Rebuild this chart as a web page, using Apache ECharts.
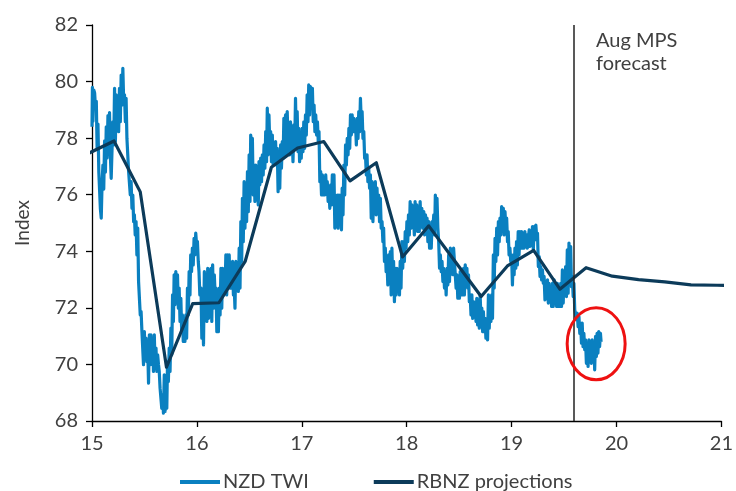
<!DOCTYPE html>
<html><head><meta charset="utf-8">
<script src="https://cdn.jsdelivr.net/npm/echarts@6/dist/echarts.min.js"></script>
<style>html,body{margin:0;padding:0;background:#fff}#c{width:736px;height:491px}</style>
</head><body><div id="c"></div>
<script>
const xTicks = [15, 16, 17, 18, 19, 20, 21];
const yTicks = [68, 70, 72, 74, 76, 78, 80, 82];
const seriesNames = ['NZD TWI', 'RBNZ projections'];
const axisName = 'Index';
const forecastStart = 19.585;
const forecastLabel = 'Aug MPS\nforecast';
const highlightCenter = [19.806, 70.73];

const rbnzDates = [14.96, 15.21, 15.46, 15.71, 15.96, 16.21, 16.46, 16.71, 16.96, 17.21, 17.46, 17.71, 17.96, 18.21, 18.46, 18.71, 18.96, 19.21, 19.46, 19.71, 19.96, 20.21, 20.46, 20.71, 20.96, 21.21];
const rbnzValues = [77.45, 77.9, 76.1, 69.9, 72.15, 72.18, 73.64, 76.97, 77.65, 77.88, 76.49, 77.13, 73.8, 74.9, 73.65, 72.4, 73.48, 74.03, 72.66, 73.42, 73.12, 73.0, 72.92, 72.81, 72.8, 72.78];

const nzdTwi = [
[15.000,78.4],[15.004,79.8],[15.009,78.6],[15.017,79.7],[15.025,79.6],[15.033,79.1],[15.041,79.3],[15.049,77.6],
[15.057,78.5],[15.065,76.8],[15.073,76.8],[15.080,75.5],[15.088,75.17],[15.096,76.4],[15.104,77.05],[15.112,76.2],
[15.120,77.9],[15.128,76.8],[15.136,78.4],[15.144,77.3],[15.152,78.8],[15.160,77.6],[15.167,78.9],[15.175,77.4],
[15.183,76.58],[15.191,77.6],[15.199,78.58],[15.207,77.76],[15.215,79.76],[15.223,77.88],[15.231,79.53],[15.239,78.58],
[15.246,79.17],[15.254,78.23],[15.262,79.76],[15.270,78.58],[15.278,80.23],[15.286,79.17],[15.294,80.47],[15.302,79.3],
[15.310,79.53],[15.318,78.58],[15.325,79.41],[15.333,77.99],[15.341,77.99],[15.349,76.82],[15.357,76.82],[15.365,75.99],
[15.373,76.46],[15.381,75.52],[15.389,75.99],[15.397,75.05],[15.404,75.29],[15.412,74.58],[15.420,75.05],[15.428,73.87],
[15.436,74.82],[15.444,72.93],[15.452,72.93],[15.460,71.75],[15.468,71.87],[15.476,71.16],[15.483,71.16],[15.491,69.99],
[15.499,71.16],[15.507,70.34],[15.515,70.93],[15.523,70.10],[15.531,70.58],[15.539,69.34],[15.547,71.05],[15.555,69.99],
[15.562,71.05],[15.570,70.34],[15.578,70.93],[15.586,69.75],[15.594,71.05],[15.602,69.87],[15.610,70.58],[15.618,69.75],
[15.626,70.34],[15.634,69.99],[15.641,69.75],[15.649,69.16],[15.657,69.16],[15.665,68.45],[15.673,68.93],[15.681,68.28],
[15.689,69.63],[15.697,68.34],[15.705,69.40],[15.713,68.45],[15.720,70.10],[15.728,69.40],[15.736,70.58],[15.744,69.75],
[15.752,71.28],[15.760,70.34],[15.768,72.46],[15.776,71.52],[15.783,73.17],[15.791,72.11],[15.799,73.28],[15.807,72.46],
[15.815,73.17],[15.823,71.99],[15.831,72.70],[15.839,71.52],[15.847,72.34],[15.855,71.16],[15.862,71.75],[15.870,70.81],
[15.878,71.52],[15.886,70.81],[15.894,71.75],[15.902,70.93],[15.910,72.70],[15.918,71.75],[15.926,73.28],[15.934,72.46],
[15.941,73.87],[15.949,73.28],[15.957,74.11],[15.965,73.52],[15.973,74.46],[15.981,73.87],[15.989,74.64],[15.997,74.23],
[16.005,74.34],[16.013,73.64],[16.020,73.28],[16.028,72.46],
[16.039,72.70],[16.047,70.93],[16.055,71.87],[16.063,70.69],[16.071,73.28],[16.079,71.75],[16.087,73.05],[16.095,71.52],
[16.103,73.40],[16.111,71.63],[16.118,72.46],[16.126,71.75],[16.134,73.40],[16.142,71.52],[16.150,73.52],[16.158,71.99],
[16.166,73.17],[16.174,72.46],[16.182,72.70],[16.190,71.16],[16.197,71.99],[16.205,71.16],[16.213,72.70],[16.221,71.75],
[16.229,73.40],[16.237,71.99],[16.245,73.40],[16.253,72.46],[16.261,73.28],[16.269,72.70],[16.276,73.87],[16.284,72.46],
[16.292,73.87],[16.300,72.70],[16.308,73.87],[16.316,72.70],[16.324,73.28],[16.332,72.70],[16.340,73.64],[16.348,72.46],
[16.355,72.81],[16.363,71.99],[16.371,73.64],[16.379,72.70],[16.387,73.17],[16.395,72.58],[16.403,74.11],[16.411,72.70],
[16.419,75.05],[16.427,73.64],[16.434,75.87],[16.442,74.34],[16.450,76.46],[16.458,74.82],[16.466,76.23],[16.474,75.05],
[16.482,76.82],[16.490,75.40],[16.498,77.41],[16.506,75.76],[16.513,78.11],[16.521,76.46],[16.529,77.99],[16.537,75.99],
[16.545,77.05],[16.553,75.76],[16.561,77.05],[16.569,76.23],[16.577,76.82],[16.585,75.64],[16.592,77.17],[16.600,76.35],
[16.608,77.29],[16.616,76.46],[16.624,77.41],[16.632,76.70],[16.640,77.76],[16.648,76.94],[16.656,78.23],[16.664,77.17],
[16.671,79.06],[16.679,77.41],[16.687,78.82],[16.695,77.76],[16.703,78.23],[16.711,77.17],[16.719,78.11],[16.727,77.05],
[16.735,77.76],[16.743,77.17],[16.750,77.88],[16.758,77.05],[16.766,77.64],[16.774,76.11],[16.782,77.41],[16.790,76.23],
[16.798,77.76],[16.806,76.94],[16.814,77.88],[16.822,77.29],[16.829,78.70],[16.837,77.41],[16.845,78.82],[16.853,77.41],
[16.861,78.94],[16.869,77.88],[16.877,78.35],[16.885,77.41],[16.892,78.58],[16.900,77.76],[16.908,78.23],[16.916,77.17],
[16.924,78.47],[16.932,77.64],[16.940,79.41],[16.948,77.88],[16.956,78.94],[16.964,77.52],[16.971,78.35],[16.979,77.17],
[16.987,77.99],[16.995,77.29],[17.003,78.35],[17.011,77.52],[17.019,78.58],[17.027,77.64],[17.035,78.82],[17.043,78.11],
[17.051,79.53],[17.059,78.58],[17.066,79.88],[17.074,78.82],[17.082,79.82],[17.090,79.06],
[17.101,79.76],[17.109,78.58],[17.117,79.17],[17.125,78.23],[17.133,78.82],[17.141,78.11],[17.149,78.58],[17.157,77.88],
[17.164,78.23],[17.172,76.46],[17.180,76.82],[17.188,75.99],[17.196,76.70],[17.204,75.99],[17.212,76.46],[17.220,75.99],
[17.228,76.70],[17.236,76.11],[17.243,76.46],[17.251,75.76],[17.259,76.23],[17.267,75.52],[17.275,76.35],[17.283,75.64],
[17.291,76.70],[17.299,75.76],[17.307,76.70],[17.315,74.82],[17.322,75.76],[17.330,74.93],[17.338,75.99],[17.346,74.82],
[17.354,75.99],[17.362,75.29],[17.370,75.99],[17.378,74.76],[17.385,76.23],[17.393,75.29],[17.401,77.05],[17.409,75.99],
[17.417,77.76],[17.425,77.05],[17.433,77.99],[17.441,77.41],[17.449,78.35],[17.457,77.64],[17.464,78.82],[17.472,78.11],
[17.480,78.82],[17.488,78.23],[17.496,78.70],[17.504,78.23],[17.512,78.58],[17.520,77.76],[17.528,78.70],[17.536,77.99],
[17.543,78.94],[17.551,78.23],[17.559,79.41],[17.567,78.58],[17.575,78.94],[17.583,77.99],[17.591,78.23],[17.599,77.29],
[17.607,77.41],[17.615,76.70],[17.622,77.41],[17.630,76.46],[17.638,76.94],[17.646,76.23],[17.654,76.70],[17.662,75.17],
[17.670,76.46],[17.678,75.05],[17.686,76.23],[17.694,75.76],[17.701,76.46],[17.709,75.29],[17.717,76.23],[17.725,75.40],
[17.733,75.99],[17.741,75.05],[17.749,75.87],[17.757,74.82],[17.765,75.05],[17.773,74.34],[17.780,74.82],[17.788,73.64],
[17.796,74.11],[17.804,73.28],[17.812,73.64],[17.820,72.81],[17.828,73.87],[17.836,72.93],[17.844,73.99],[17.852,72.46],
[17.859,74.11],[17.867,72.93],[17.875,73.64],[17.883,72.22],[17.891,73.40],[17.899,72.46],[17.907,73.40],[17.915,72.70],
[17.923,73.28],[17.931,72.46],[17.938,73.64],[17.946,72.70],[17.954,74.34],[17.962,73.40],[17.970,74.34],[17.978,73.64],
[17.986,74.70],[17.994,74.11],[18.002,75.05],[18.010,74.34],[18.017,75.29],[18.025,74.58],[18.033,75.76],[18.041,74.82],
[18.049,75.64],[18.057,74.93],[18.065,75.29],[18.073,74.58],[18.080,75.76],[18.088,74.82],[18.096,75.64],[18.104,74.70],
[18.112,75.40],[18.120,74.70],[18.128,75.76],[18.136,74.93],[18.144,75.52],[18.152,74.82],
[18.163,75.40],[18.171,74.58],[18.179,75.29],[18.187,74.82],[18.194,75.17],[18.202,74.34],[18.210,75.05],[18.218,74.11],
[18.226,74.58],[18.234,74.11],[18.242,75.05],[18.250,74.82],[18.258,75.29],[18.266,74.58],[18.273,75.99],[18.281,75.05],
[18.289,75.87],[18.297,74.82],[18.305,74.34],[18.313,73.40],[18.321,73.87],[18.329,73.28],[18.337,73.64],[18.345,72.93],
[18.352,73.40],[18.360,72.70],[18.368,73.28],[18.376,72.46],[18.384,73.40],[18.392,72.81],[18.400,73.87],[18.408,72.93],
[18.416,74.11],[18.424,73.40],[18.431,73.99],[18.439,73.17],[18.447,74.11],[18.455,73.64],[18.463,73.64],[18.471,72.70],
[18.479,73.17],[18.487,72.34],[18.495,72.93],[18.503,72.34],[18.510,73.28],[18.518,72.46],[18.526,73.17],[18.534,72.46],
[18.542,73.40],[18.550,72.46],[18.558,73.52],[18.566,72.93],[18.574,73.40],[18.582,72.70],[18.589,73.17],[18.597,72.22],
[18.605,72.46],[18.613,71.75],[18.621,72.46],[18.629,71.63],[18.637,72.22],[18.645,71.75],[18.653,71.99],[18.661,71.52],
[18.668,72.34],[18.676,71.40],[18.684,72.11],[18.692,71.28],[18.700,72.46],[18.708,71.63],[18.716,71.99],[18.724,71.16],
[18.731,71.87],[18.739,71.16],[18.747,71.63],[18.755,70.93],[18.763,71.52],[18.771,70.87],[18.779,72.46],[18.787,71.28],
[18.795,72.34],[18.803,71.52],[18.810,72.46],[18.818,71.63],[18.826,73.87],[18.834,72.70],[18.842,74.46],[18.850,73.64],
[18.858,74.82],[18.866,73.87],[18.874,75.05],[18.882,74.34],[18.889,75.17],[18.897,74.58],[18.905,75.58],[18.913,75.05],
[18.921,75.52],[18.929,74.58],[18.937,75.40],[18.945,74.82],[18.953,75.17],[18.961,74.34],[18.968,74.70],[18.976,73.87],
[18.984,74.11],[18.992,73.64],[19.000,73.87],[19.008,72.81],[19.016,73.87],[19.024,73.17],[19.032,74.11],[19.040,73.40],
[19.047,74.34],[19.055,73.52],[19.063,74.70],[19.071,73.87],[19.079,74.70],[19.087,74.11],[19.095,74.70],[19.103,74.11],
[19.111,74.58],[19.119,74.11],[19.126,74.70],[19.134,74.34],[19.142,74.58],[19.150,74.11],
[19.168,74.76],[19.176,74.17],[19.184,74.64],[19.192,74.29],[19.199,74.87],[19.207,74.05],[19.215,74.87],[19.223,74.40],
[19.231,74.93],[19.239,74.52],[19.247,74.64],[19.255,73.46],[19.263,73.81],[19.271,73.11],[19.278,73.46],[19.286,72.99],
[19.294,73.34],[19.302,72.87],[19.310,73.11],[19.318,72.28],[19.326,72.87],[19.334,72.40],[19.342,72.99],[19.350,72.17],
[19.357,72.87],[19.365,72.28],[19.373,72.75],[19.381,72.05],[19.389,72.87],[19.397,72.05],[19.405,72.99],[19.413,72.17],
[19.421,72.75],[19.429,72.05],[19.436,72.87],[19.444,72.05],[19.452,72.64],[19.460,72.05],[19.468,72.87],[19.476,72.05],
[19.484,73.34],[19.492,72.17],[19.500,73.22],[19.508,72.52],[19.515,73.46],[19.523,72.40],[19.531,74.05],[19.539,72.52],
[19.547,74.29],[19.555,73.22],[19.563,74.17],[19.571,72.75],[19.579,73.11],[19.587,72.40],[19.594,72.87],[19.602,71.93],
[19.610,71.93],[19.618,71.58],[19.626,71.81],[19.634,71.34],[19.642,71.69],[19.650,71.10],[19.658,71.46],[19.666,70.75],
[19.673,71.46],[19.681,70.63],[19.689,71.10],[19.697,70.52],[19.705,70.87],[19.713,70.04],[19.721,70.75],[19.729,69.93],
[19.737,70.87],[19.745,70.16],[19.752,70.75],[19.760,70.04],[19.768,70.87],[19.776,70.28],[19.784,70.75],[19.792,69.81],
[19.800,70.99],[19.808,70.28],[19.815,71.10],[19.823,70.40],[19.831,71.16],[19.839,70.63],[19.847,71.10],[19.853,70.8]
];

const FONT = 'Lato';
const TEXT = '#404040';
const BLUE = '#0a80c0';
const NAVY = '#0c3b5a';

const chart = echarts.init(document.getElementById('c'), null, {renderer: 'canvas'});
const rbnz = rbnzDates.map((d, i) => [d, rbnzValues[i]]);

chart.setOption({
  animation: false,
  backgroundColor: '#fff',
  textStyle: {fontFamily: FONT},
  grid: {left: 92, right: 11, top: 25, bottom: 70, containLabel: false},
  legend: {
    data: seriesNames,
    icon: 'rect',
    left: 175, top: 467,
    itemWidth: 40, itemHeight: 4, itemGap: 65,
    textStyle: {fontFamily: FONT, fontSize: 20, color: TEXT, padding: [0, 0, 0, -2]}
  },
  xAxis: {
    type: 'value', min: xTicks[0], max: xTicks[xTicks.length - 1], interval: 1,
    axisLine: {lineStyle: {color: '#000', width: 1.3}},
    axisTick: {show: true, length: 6, lineStyle: {color: '#000', width: 1.3}},
    axisLabel: {color: TEXT, fontSize: 20, fontFamily: FONT, margin: 13},
    splitLine: {show: false}
  },
  yAxis: {
    type: 'value', min: yTicks[0], max: yTicks[yTicks.length - 1], interval: 2,
    name: axisName, nameLocation: 'middle', nameGap: 60, nameRotate: 90,
    nameTextStyle: {color: TEXT, fontSize: 19, fontFamily: FONT},
    axisLine: {show: true, lineStyle: {color: '#000', width: 1.3}},
    axisTick: {show: true, length: 6, lineStyle: {color: '#000', width: 1.3}},
    axisLabel: {color: TEXT, fontSize: 20, fontFamily: FONT, margin: 14},
    splitLine: {show: false}
  },
  series: [
    {
      name: seriesNames[0], type: 'line', data: nzdTwi,
      showSymbol: false, symbol: 'none', z: 2,
      lineStyle: {color: BLUE, width: 3.2, join: 'round'}, itemStyle: {color: BLUE}
    },
    {
      name: seriesNames[1], type: 'line', data: rbnz,
      showSymbol: false, symbol: 'none', z: 3,
      lineStyle: {color: NAVY, width: 3.2, join: 'round'}, itemStyle: {color: NAVY},
      markLine: {
        silent: true, symbol: 'none', animation: false,
        label: {show: false},
        lineStyle: {color: '#222', width: 1.5, type: 'solid'},
        data: [{xAxis: forecastStart}]
      }
    }
  ]
});

const centerPx = chart.convertToPixel({gridIndex: 0}, highlightCenter);
const labelPx = chart.convertToPixel({gridIndex: 0}, [forecastStart, yTicks[yTicks.length - 1]]);
chart.setOption({
  graphic: [
    {type: 'ellipse', shape: {cx: centerPx[0], cy: centerPx[1], rx: 29, ry: 36}, style: {fill: 'none', stroke: '#ee1111', lineWidth: 3}, z: 10},
    {type: 'text', x: labelPx[0] + 23, y: labelPx[1] + 4, style: {text: forecastLabel, fontFamily: FONT, fontSize: 20, fill: TEXT, lineHeight: 23}, z: 10}
  ]
});
</script>
</body></html>
